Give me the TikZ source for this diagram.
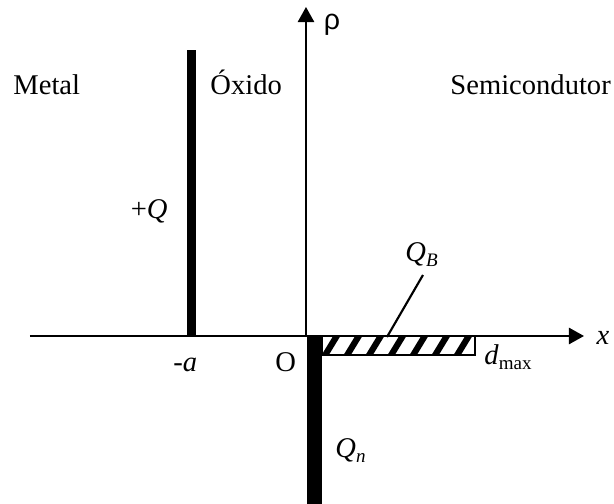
\documentclass[tikz,border=0pt]{standalone}
\usepackage{fontspec}
\setmainfont{Liberation Serif}
\newfontfamily\rhofont{Liberation Sans}
\usetikzlibrary{arrows.meta}

\begin{document}
\begin{tikzpicture}[
  x=0.42pt,y=0.42pt,
  axis/.style={line width=0.8pt,-{Triangle[length=6.3pt,width=6.8pt]}},
  lbl/.style={font=\fontsize{12}{14}\selectfont,inner sep=0pt},
  plate/.style={fill=black,draw=none},
]
  \useasboundingbox (-306,-168) rectangle (308,336);

  % axes
  \coordinate (o) at (0,0);
  \coordinate (xend) at (278,0);
  \coordinate (xstart) at (-276,0);
  \coordinate (rhoend) at (0,329);
  \draw[axis] (xstart) -- (xend);
  \draw[axis] (o) -- (rhoend);

  % charge sheets
  \fill[plate] (-119,1) rectangle (-110,286);
  \fill[plate] (1,0) rectangle (16,-168);

  % depletion charge
  \begin{scope}
    \clip (16,0) rectangle (169,-19);
    \foreach \xx in {24,46,...,178}
      \draw[line width=2.6pt] (\xx-6,-21) -- (\xx+8,2);
  \end{scope}
  \draw[line width=1.1pt] (16,0) rectangle (169,-19);
  \coordinate (qbtip) at (81,-1);

  % labels
  \node[lbl,anchor=base west] (metal) at (-293,241) {Metal};
  \node[lbl,anchor=base west] (oxido) at (-96,241) {Óxido};
  \node[lbl,anchor=base west] (semi) at (144,241) {Semicondutor};
  \node[lbl,anchor=base east] (plusq) at (-138,117) {+\textit{Q}};
  \node[lbl,anchor=base west] (qb) at (99,74) {\textit{Q}\textsubscript{\textit{B}}};
  \node[lbl,anchor=base west] (mina) at (-133,-36) {-\textit{a}};
  \node[lbl,anchor=base west] (orig) at (-31,-36) {O};
  \node[lbl,anchor=base west] (dmax) at (178,-29) {\textit{d}\textsubscript{max}};
  \node[lbl,anchor=base] (xlab) at (297,-9) {\textit{x}};
  \node[lbl] (rho) at (26,311) {\rhofont ρ};
  \node[lbl,anchor=base west] (qn) at (29,-122) {\textit{Q}\textsubscript{\textit{n}}};

  \draw[line width=0.9pt] (117,61) -- (qbtip);
\end{tikzpicture}
\end{document}
